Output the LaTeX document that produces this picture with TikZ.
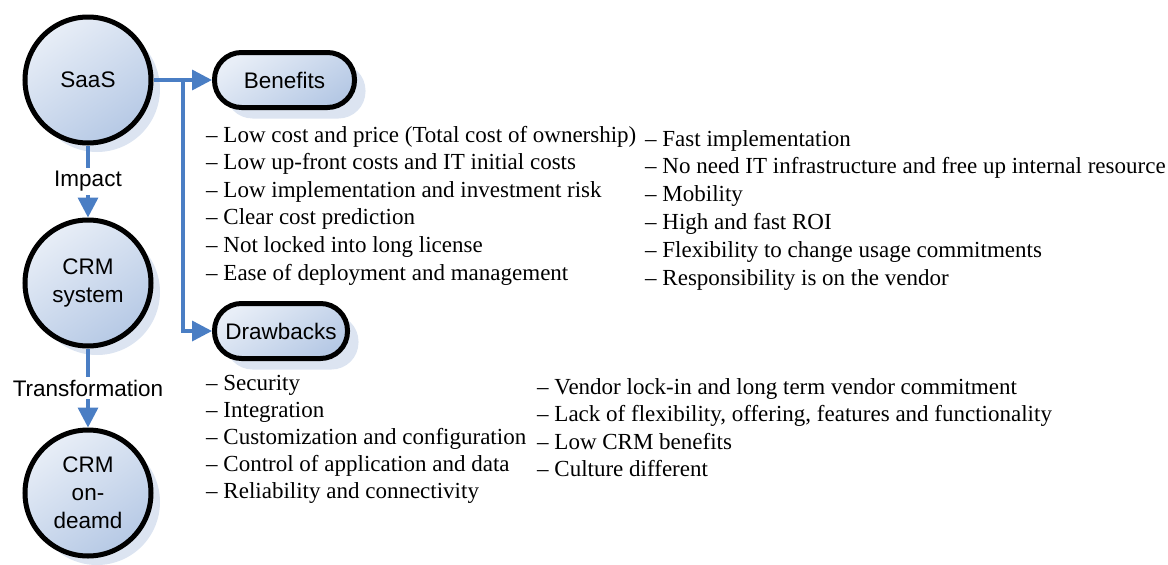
\documentclass[tikz,border=0pt]{standalone}
\usepackage{fontspec}
\setmainfont{Liberation Serif}
\setsansfont{Liberation Sans}
\usetikzlibrary{arrows.meta,shadows,positioning}

\definecolor{linkblue}{HTML}{4A7EC4}
\definecolor{filltop}{HTML}{E8EEF7}
\definecolor{fillbot}{HTML}{B6C9E5}
\definecolor{shadeblue}{HTML}{DCE4F1}

\tikzset{
  stage/.style={circle, draw=black, line width=5pt, minimum size=126pt, inner sep=0pt,
    top color=filltop, bottom color=fillbot, shading angle=35,
    drop shadow={shadow xshift=9pt, shadow yshift=-9pt, fill=shadeblue, opacity=1},
    font=\sffamily\fontsize{22.5}{28}\selectfont, align=center},
  head/.style={rectangle, rounded corners=27pt, draw=black, line width=5pt,
    minimum height=55pt, inner sep=0pt,
    top color=filltop, bottom color=fillbot, shading angle=35,
    drop shadow={shadow xshift=11pt, shadow yshift=-11pt, fill=shadeblue, opacity=1},
    font=\sffamily\fontsize{22.5}{28}\selectfont},
  link/.style={draw=linkblue, line width=3.5pt},
  arr/.style={-{Triangle[width=20pt,length=20pt]}},
  lbl/.style={fill=white, inner sep=3pt, font=\sffamily\fontsize{22.5}{28}\selectfont},
  items/.style={anchor=base west, inner sep=0pt, font=\fontsize{23}{27.6}\selectfont}
}

\begin{document}
\begin{tikzpicture}[x=1pt, y=-1pt]
\useasboundingbox (0,0) rectangle (1168,565);

% stages
\node[stage] (saas) at (88,80) {SaaS};
\node[stage] (crm) at (88,283) {CRM\\system};
\node[stage] (ondemand) at (88,493) {CRM\\on-\\deamd};

% headings
\node[head, minimum width=140pt] (benefits) at (284.5,80) {Benefits};
\node[head, minimum width=133pt] (drawbacks) at (281,331) {Drawbacks};

% connectors
\coordinate (jn) at (183,80);
\draw[link, arr] (saas.east) -- (benefits.west);
\draw[link, arr] (jn) |- (drawbacks.west);
\draw[link, arr] (saas.south) -- node[lbl] (impact) {Impact} (crm.north);
\draw[link, arr] (crm.south) -- node[lbl] (transf) {Transformation} (ondemand.north);

% benefit items
\foreach \t [count=\i from 0] in {Low cost and price (Total cost of ownership),
  Low up-front costs and IT initial costs,
  Low implementation and investment risk,
  Clear cost prediction,
  Not locked into long license,
  Ease of deployment and management}
  \node[items] (benA-\i) at (206,142+27.6*\i) {-- \t};
\foreach \t [count=\i from 0] in {Fast implementation,
  No need IT infrastructure and free up internal resource,
  Mobility,
  High and fast ROI,
  Flexibility to change usage commitments,
  Responsibility is on the vendor}
  \node[items] (benB-\i) at (645,146+27.8*\i) {-- \t};

% drawback items
\foreach \t [count=\i from 0] in {Security,
  Integration,
  Customization and configuration,
  Control of application and data,
  Reliability and connectivity}
  \node[items] (drwA-\i) at (206,390+27.2*\i) {-- \t};
\foreach \t [count=\i from 0] in {Vendor lock-in and long term vendor commitment,
  {Lack of flexibility, offering, features and functionality},
  Low CRM benefits,
  Culture different}
  \node[items] (drwB-\i) at (537,394+27.6*\i) {-- \t};
\end{tikzpicture}
\end{document}
